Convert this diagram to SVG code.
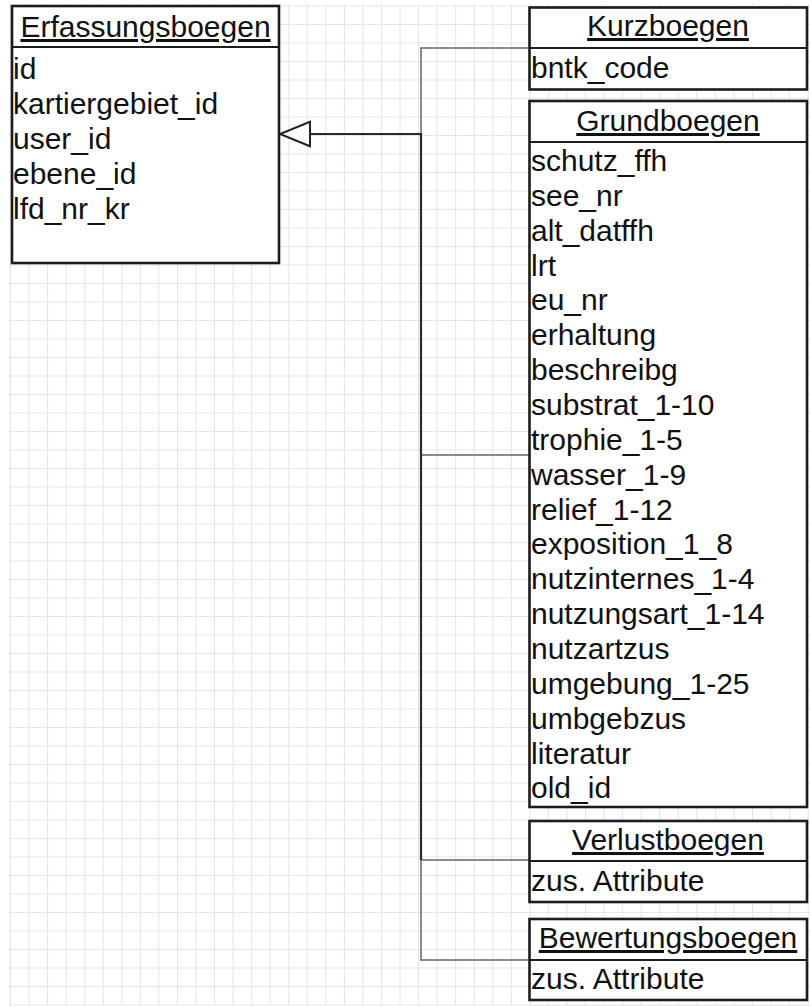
<svg xmlns="http://www.w3.org/2000/svg" width="811" height="1007" viewBox="0 0 811 1007">
<defs>
<pattern id="grid" patternUnits="userSpaceOnUse" x="10" y="5.5" width="18.55" height="18.5">
<path d="M0,0 H18.55 M0,0 V18.5" fill="none" stroke="#dedede" stroke-width="1.6"/>
</pattern>
<marker id="gen" markerUnits="userSpaceOnUse" viewBox="-2 -14 34 28" markerWidth="34" markerHeight="28" refX="0" refY="0" orient="auto">
<path d="M0,-12.3 L30,0 L0,12.3 Z" fill="#fff" stroke="#222" stroke-width="2"/>
</marker>
</defs>
<style>
.box{fill:#fff;stroke:#1c1c1c;stroke-width:2.6}
.sep{stroke:#1c1c1c;stroke-width:2.2}
text{font-family:"Liberation Sans",Arial,Helvetica,sans-serif;font-size:30px;fill:#111}
.title{text-anchor:middle;text-decoration:underline}
.gray{fill:none;stroke:#8a8a8a;stroke-width:2}
.dark{fill:none;stroke:#2a2a2a;stroke-width:2.2}
</style>
<rect x="0" y="0" width="811" height="1007" fill="#fff"/>
<rect x="9" y="4" width="801" height="1002" fill="url(#grid)"/>
<g id="connectors">
<path class="gray" d="M529,48 H421 V134"/>
<path class="gray" d="M421,455 H529"/>
<path class="gray" d="M421,860 H529"/>
<path class="gray" d="M421,860 V960 H529"/>
<path class="dark" d="M421,860 V134 H310" marker-end="url(#gen)"/>
</g>
<g id="Erfassungsboegen">
<rect class="box" x="12" y="6" width="267" height="257"/>
<line class="sep" x1="12" y1="47" x2="279" y2="47"/>
<text class="title" x="145.5" y="37">Erfassungsboegen</text>
<text x="13" y="79">id</text>
<text x="13" y="114">kartiergebiet_id</text>
<text x="13" y="149">user_id</text>
<text x="13" y="184">ebene_id</text>
<text x="13" y="219">lfd_nr_kr</text>
</g>
<g id="Kurzboegen">
<rect class="box" x="529.5" y="7.5" width="277.5" height="82"/>
<line class="sep" x1="529.5" y1="48" x2="807" y2="48"/>
<text class="title" x="668" y="36">Kurzboegen</text>
<text x="531" y="78">bntk_code</text>
</g>
<g id="Grundboegen">
<rect class="box" x="529.5" y="101" width="277.5" height="706"/>
<line class="sep" x1="529.5" y1="142" x2="807" y2="142"/>
<text class="title" x="668" y="131">Grundboegen</text>
<text x="531" y="171">schutz_ffh</text>
<text x="531" y="205.9">see_nr</text>
<text x="531" y="240.7">alt_datffh</text>
<text x="531" y="275.6">lrt</text>
<text x="531" y="310.4">eu_nr</text>
<text x="531" y="345.3">erhaltung</text>
<text x="531" y="380.1">beschreibg</text>
<text x="531" y="415">substrat_1-10</text>
<text x="531" y="449.8">trophie_1-5</text>
<text x="531" y="484.7">wasser_1-9</text>
<text x="531" y="519.5">relief_1-12</text>
<text x="531" y="554.4">exposition_1_8</text>
<text x="531" y="589.2">nutzinternes_1-4</text>
<text x="531" y="624.1">nutzungsart_1-14</text>
<text x="531" y="658.9">nutzartzus</text>
<text x="531" y="693.8">umgebung_1-25</text>
<text x="531" y="728.6">umbgebzus</text>
<text x="531" y="763.5">literatur</text>
<text x="531" y="798.3">old_id</text>
</g>
<g id="Verlustboegen">
<rect class="box" x="529.5" y="821" width="277.5" height="81"/>
<line class="sep" x1="529.5" y1="861" x2="807" y2="861"/>
<text class="title" x="668" y="850">Verlustboegen</text>
<text x="531" y="891">zus. Attribute</text>
</g>
<g id="Bewertungsboegen">
<rect class="box" x="529.5" y="919" width="277.5" height="81"/>
<line class="sep" x1="529.5" y1="960" x2="807" y2="960"/>
<text class="title" x="668" y="948">Bewertungsboegen</text>
<text x="531" y="989">zus. Attribute</text>
</g>
</svg>
